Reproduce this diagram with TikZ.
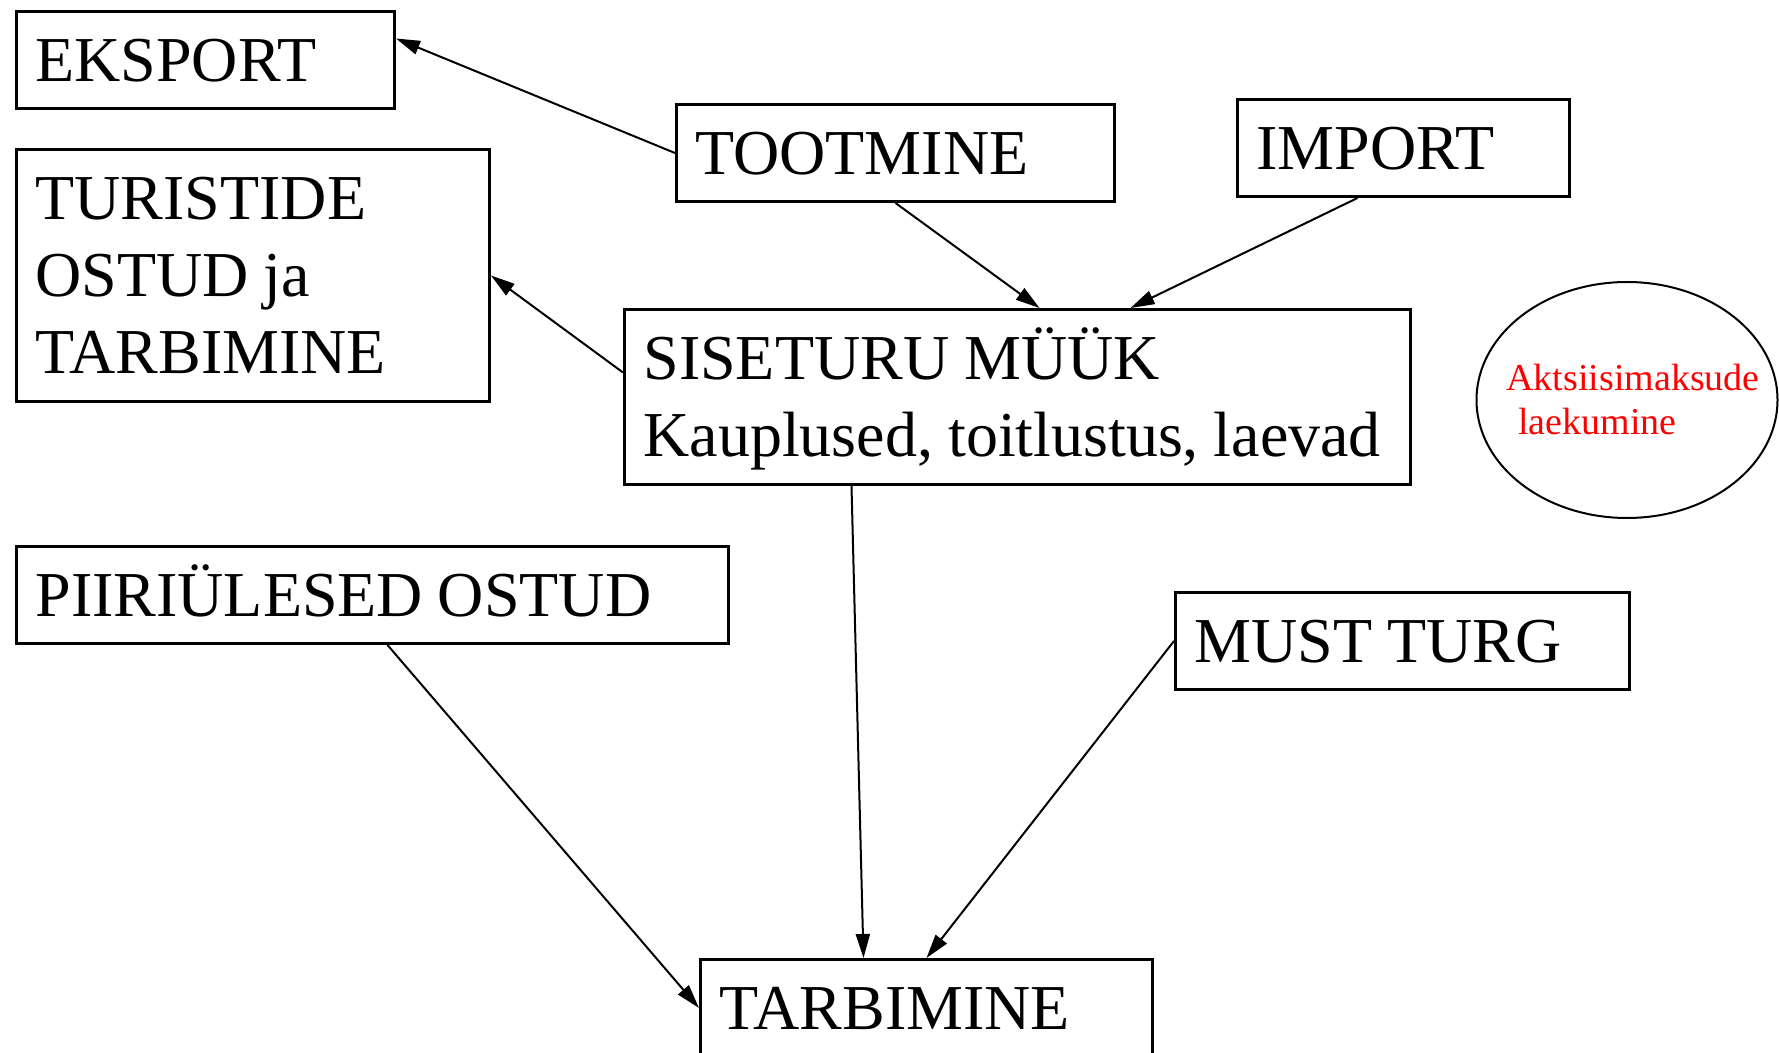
\documentclass[tikz,border=0pt]{standalone}
\usepackage{fontspec}
\setmainfont{Liberation Serif}
\usetikzlibrary{arrows.meta}
\usetikzlibrary{shapes}
\newcommand{\wsp}{\hspace{7.5pt}}

\begin{document}
\begin{tikzpicture}[x = 0.5pt, y = -0.5pt]
	\tikzstyle{boxStyle}=[draw, line width = 1.5pt, anchor = north west, align = left, inner xsep = 9.5pt, inner ysep = 0pt, text height = 35pt, text depth = 13.5pt, font = \fontsize{32}{38.5}\selectfont]
	\tikzstyle{ovalStyle}=[draw, shape = ellipse, line width = 1pt, minimum width = 150.5pt, minimum height = 118pt]
	\tikzstyle{noteStyle}=[align = left, text = red, inner sep = 0pt, font = \fontsize{19}{22}\selectfont]
	\tikzstyle{edgeStyle}=[line width = 1pt, -{Triangle[length = 12pt, width = 7pt]}]
	\useasboundingbox (0, 0) rectangle (1779, 1053);
	\node[boxStyle, text width = 170pt] (v0) at (15, 10) {EKSPORT};
	\node[boxStyle, text width = 200pt] (v1) at (675, 103) {TOOTMINE};
	\node[boxStyle, text width = 147pt] (v2) at (1236, 98) {IMPORT};
	\node[boxStyle, text width = 217.5pt, text depth = 91pt] (v3) at (15, 148) {TURISTIDE\\OSTUD\wsp ja\\TARBIMINE};
	\node[boxStyle, text width = 374pt, text depth = 52.5pt] (v4) at (623, 308) {SISETURU\wsp MÜÜK\\Kauplused,\wsp toitlustus,\wsp laevad};
	\node[boxStyle, text width = 337pt] (v5) at (15, 545) {PIIRIÜLESED\wsp OSTUD};
	\node[boxStyle, text width = 208pt] (v6) at (1174, 591) {MUST\wsp TURG};
	\node[boxStyle, text width = 207pt] (v7) at (699, 958) {TARBIMINE};
	\node[ovalStyle] (v8) at (1627, 400) {};
	\node[noteStyle] (v9) at (1633, 400) {Aktsiisimaksude\\\hspace*{6pt}laekumine};
	\draw[edgeStyle] (v1.west) -- ([yshift = 10.75pt]v0.east);
	\draw[edgeStyle] (v1.south) -- ([xshift = 11pt]v4.north);
	\draw[edgeStyle] ([xshift = -23pt]v2.south) -- ([xshift = 56.5pt]v4.north);
	\draw[edgeStyle] ([yshift = 12.25pt]v4.west) -- (v3.east);
	\draw[edgeStyle] ([xshift = -83pt]v4.south) -- ([xshift = -31.5pt]v7.north);
	\draw[edgeStyle] ([xshift = 7.5pt]v5.south) -- (v7.west);
	\draw[edgeStyle] (v6.west) -- (v7.north);
\end{tikzpicture}
\end{document}
